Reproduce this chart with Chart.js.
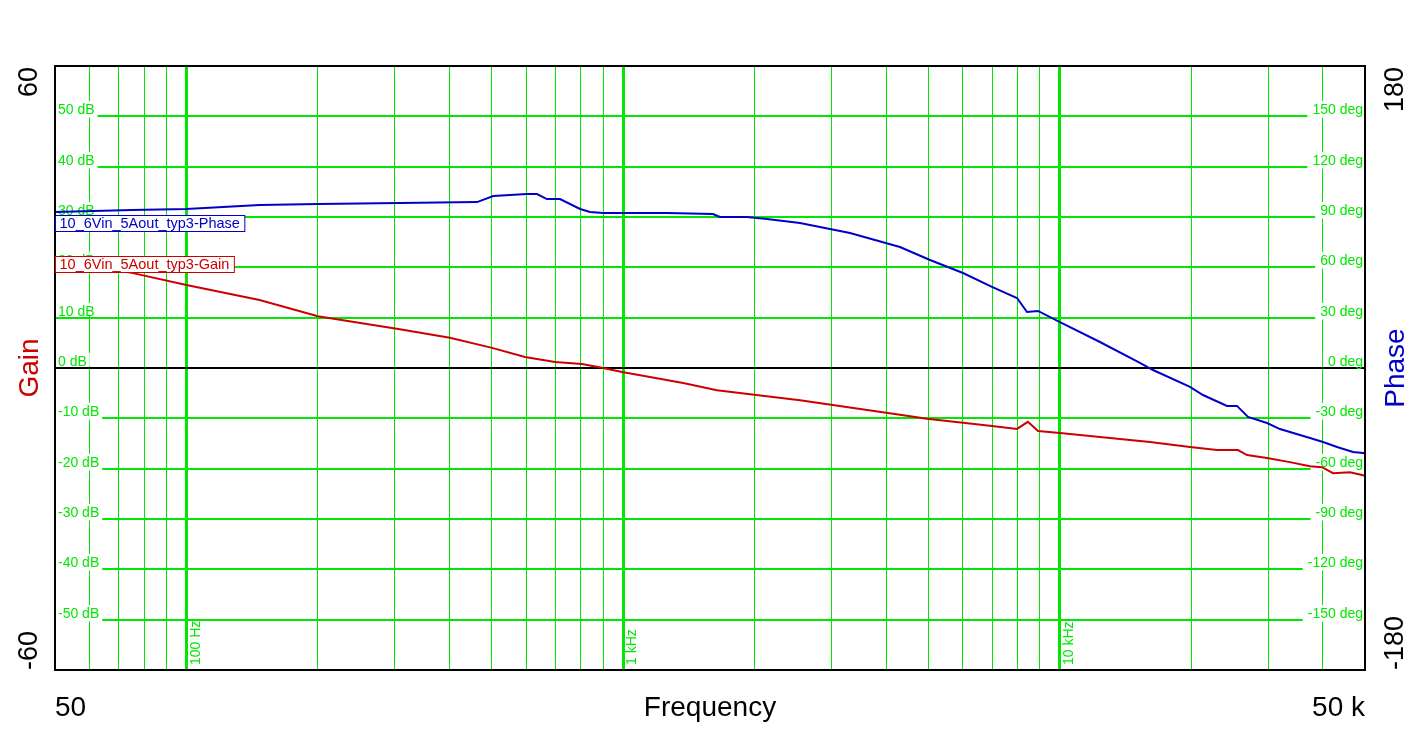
<!DOCTYPE html>
<html>
<head>
<meta charset="utf-8">
<script src="https://cdn.jsdelivr.net/npm/chart.js@4.4.1/dist/chart.umd.min.js"></script>
<style>
html,body{margin:0;padding:0;background:#fff;}
#wrap{width:1420px;height:737px;position:relative;}
</style>
</head>
<body>
<div id="wrap"><canvas id="c"></canvas></div>
<script>
// ---- data ----
const gainFreq = [50, 75, 100, 147, 200, 308, 401, 501, 596, 698, 805, 900, 994, 1152, 1372, 1640, 2541, 4305, 4964, 6003, 6993, 7980, 8453, 8916, 10010, 12360, 16090, 19870, 22910, 25590, 26840, 29830, 33650, 37410, 39860, 42240, 46190, 49470, 50000];
const gainDb   = [21.0, 18.9, 16.5, 13.5, 10.3, 7.7, 6.0, 4.0, 2.2, 1.2, 0.8, 0.0, -0.8, -1.8, -3.0, -4.4, -6.4, -9.3, -10.1, -10.9, -11.5, -12.1, -10.7, -12.5, -12.9, -13.7, -14.7, -15.7, -16.3, -16.3, -17.3, -17.9, -18.7, -19.5, -19.7, -20.9, -20.7, -21.3, -21.4];

const phaseFreq = [50, 75, 100, 147, 200, 308, 463, 504, 602, 635, 669, 717, 797, 840, 900, 1260, 1606, 1666, 1921, 2135, 2541, 3308, 4305, 5044, 6003, 6993, 7980, 8414, 8916, 10010, 12360, 15260, 16350, 19870, 21280, 24150, 25460, 26980, 29830, 31930, 37410, 40070, 43150, 46940, 49470, 50000];
const phaseDeg  = [93.0, 94.2, 94.8, 97.1, 97.7, 98.3, 98.9, 102.5, 103.7, 103.7, 100.7, 100.7, 94.8, 93.0, 92.4, 92.4, 91.8, 90.0, 90.0, 88.8, 86.4, 80.5, 72.1, 64.4, 56.6, 48.3, 41.7, 33.4, 34.0, 27.4, 15.5, 3.0, -1.2, -11.3, -16.1, -22.6, -22.6, -29.2, -32.8, -36.4, -41.7, -44.1, -47.1, -50.1, -50.7, -50.7];

// ---- axes / ticks ----
const gainTicks  = [-60, -50, -40, -30, -20, -10, 0, 10, 20, 30, 40, 50, 60];
const phaseTicks = [-150, -120, -90, -60, -30, 0, 30, 60, 90, 120, 150];
const gridFreqs  = [60, 70, 80, 90, 100, 200, 300, 400, 500, 600, 700, 800, 900, 1000, 2000, 3000, 4000, 5000, 6000, 7000, 8000, 9000, 10000, 20000, 30000, 40000];
const decadeFreqs  = [100, 1000, 10000];
const decadeLabels = ['100 Hz', '1 kHz', '10 kHz'];
const seriesNames  = ['10_6Vin_5Aout_typ3-Gain', '10_6Vin_5Aout_typ3-Phase'];

const GREEN = 'rgb(0,232,0)';
const RED = '#cc0000';
const BLUE = '#0000c8';
const FONT = '"Liberation Sans", Arial, sans-serif';

const gainPts = gainFreq.map((f, i) => ({x: f, y: gainDb[i]}));
const phasePts = phaseFreq.map((f, i) => ({x: f, y: phaseDeg[i]}));

const decorPlugin = {
  id: 'decor',
  beforeDatasetsDraw(chart) {
    const {ctx, chartArea: a, scales} = chart;
    ctx.save();
    ctx.font = '14px ' + FONT;
    ctx.textBaseline = 'alphabetic';
    // left gain labels
    gainTicks.forEach(v => {
      if (v === -60 || v === 60) return;
      const y = Math.round(scales.y.getPixelForValue(v));
      const t = v + ' dB';
      const w = ctx.measureText(t).width;
      const cover = (v !== 0 && v !== 10);
      ctx.fillStyle = '#fff';
      ctx.fillRect(a.left + 1, y - 15, w + 5, cover ? 16.5 : 13);
      ctx.fillStyle = GREEN;
      ctx.textAlign = 'left';
      ctx.fillText(t, a.left + 3, y - 2.5);
    });
    // right phase labels
    phaseTicks.forEach(v => {
      const y = Math.round(scales.y1.getPixelForValue(v));
      const t = v + ' deg';
      const w = ctx.measureText(t).width;
      const cover = (v !== 0);
      ctx.fillStyle = '#fff';
      ctx.fillRect(a.right - 2 - w - 5, y - 15, w + 6, cover ? 16.5 : 13);
      ctx.fillStyle = GREEN;
      ctx.textAlign = 'right';
      ctx.fillText(t, a.right - 2, y - 2.5);
    });
    // decade labels (rotated)
    decadeFreqs.forEach((f, i) => {
      const x = scales.x.getPixelForValue(f);
      ctx.save();
      ctx.translate(x + 2.5, a.bottom - 5);
      ctx.rotate(-Math.PI / 2);
      ctx.textAlign = 'left';
      ctx.textBaseline = 'top';
      ctx.fillStyle = GREEN;
      ctx.fillText(decadeLabels[i], 0, 0);
      ctx.restore();
    });
    ctx.restore();
  },
  afterDatasetsDraw(chart) {
    const {ctx, chartArea: a} = chart;
    ctx.save();
    // frame
    ctx.strokeStyle = '#000';
    ctx.lineWidth = 2;
    ctx.strokeRect(a.left, a.top, a.right - a.left, a.bottom - a.top);
    // series labels
    ctx.font = '14.5px ' + FONT;
    ctx.textBaseline = 'alphabetic';
    ctx.textAlign = 'left';
    const boxes = [
      {name: seriesNames[1], color: BLUE, top: 215},
      {name: seriesNames[0], color: RED, top: 256}
    ];
    boxes.forEach(b => {
      const w = ctx.measureText(b.name).width;
      ctx.fillStyle = '#fff';
      ctx.fillRect(a.left + 0.5, b.top + 0.5, w + 9, 16);
      ctx.strokeStyle = b.color;
      ctx.lineWidth = 1;
      ctx.strokeRect(a.left + 0.5, b.top + 0.5, w + 9, 16);
      ctx.fillStyle = b.color;
      ctx.fillText(b.name, a.left + 4.5, b.top + 12.5);
    });
    // outer axis texts
    const rot = (txt, x, y, align, color, size) => {
      ctx.save();
      ctx.translate(x, y);
      ctx.rotate(-Math.PI / 2);
      ctx.font = size + 'px ' + FONT;
      ctx.textAlign = align;
      ctx.textBaseline = 'alphabetic';
      ctx.fillStyle = color;
      ctx.fillText(txt, 0, 0);
      ctx.restore();
    };
    rot('60', 37, a.top + 1, 'right', '#000', 27);
    rot('-60', 37, a.bottom, 'left', '#000', 27);
    rot('Gain', 38, (a.top + a.bottom) / 2, 'center', RED, 28);
    rot('180', 1403, a.top + 1, 'right', '#000', 27);
    rot('-180', 1403, a.bottom, 'left', '#000', 27);
    rot('Phase', 1404, (a.top + a.bottom) / 2, 'center', BLUE, 28);
    ctx.font = '28px ' + FONT;
    ctx.fillStyle = '#000';
    ctx.textBaseline = 'alphabetic';
    ctx.textAlign = 'left';
    ctx.fillText('50', a.left, 716);
    ctx.textAlign = 'center';
    ctx.fillText('Frequency', 710, 716);
    ctx.textAlign = 'right';
    ctx.fillText('50 k', a.right, 716);
    ctx.restore();
  }
};

new Chart(document.getElementById('c'), {
  type: 'line',
  data: {
    datasets: [
      {label: seriesNames[0], data: gainPts, yAxisID: 'y', borderColor: RED, borderWidth: 2, pointRadius: 0, tension: 0, fill: false},
      {label: seriesNames[1], data: phasePts, yAxisID: 'y1', borderColor: BLUE, borderWidth: 2, pointRadius: 0, tension: 0, fill: false}
    ]
  },
  options: {
    responsive: true,
    maintainAspectRatio: false,
    animation: false,
    events: [],
    layout: {padding: {left: 55, right: 55, top: 66, bottom: 67}},
    plugins: {legend: {display: false}, tooltip: {enabled: false}, title: {display: false}},
    scales: {
      x: {
        type: 'logarithmic', min: 50, max: 50000,
        afterBuildTicks: s => { s.ticks = gridFreqs.map(v => ({value: v})); },
        afterFit: s => { s.height = 0; },
        ticks: {display: false},
        border: {display: false},
        grid: {
          drawTicks: false,
          color: GREEN,
          lineWidth: c => (decadeFreqs.includes(c.tick && c.tick.value) ? 3 : 1)
        }
      },
      y: {
        type: 'linear', position: 'left', min: -60, max: 60,
        afterBuildTicks: s => { s.ticks = gainTicks.map(v => ({value: v})); },
        afterFit: s => { s.width = 0; },
        ticks: {display: false},
        border: {display: false},
        grid: {
          drawTicks: false,
          color: c => {
            const v = c.tick && c.tick.value;
            if (v === 0) return '#000';
            if (v === 60 || v === -60) return 'rgba(0,0,0,0)';
            return GREEN;
          },
          lineWidth: 2
        }
      },
      y1: {
        type: 'linear', position: 'right', min: -180, max: 180,
        afterFit: s => { s.width = 0; },
        ticks: {display: false},
        border: {display: false},
        grid: {display: false, drawTicks: false}
      }
    }
  },
  plugins: [decorPlugin]
});
</script>
</body>
</html>
